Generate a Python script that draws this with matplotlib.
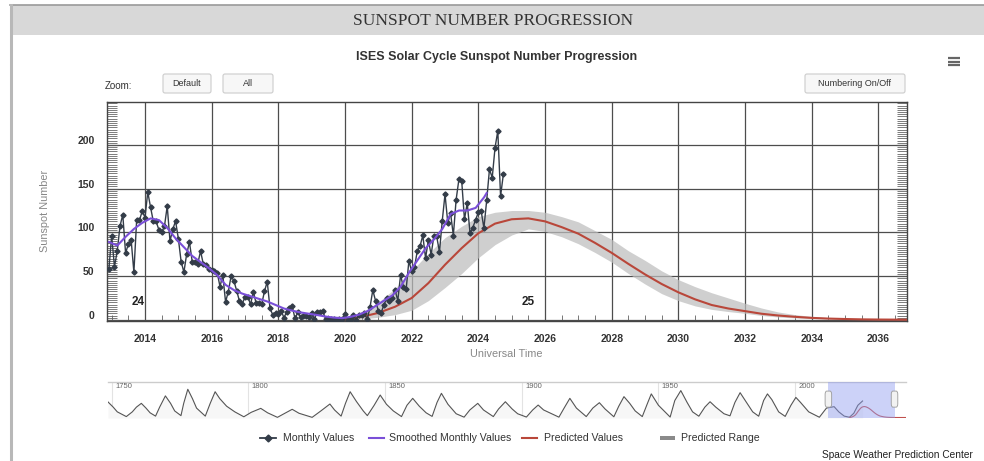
import numpy as np
import pandas as pd
import matplotlib
matplotlib.use("Agg")
import matplotlib.pyplot as plt
import matplotlib.transforms as mtransforms
from matplotlib.patches import Rectangle, FancyBboxPatch
from matplotlib.lines import Line2D

plt.rcParams["font.family"] = ["Liberation Sans", "DejaVu Sans"]

# ---------------- data ----------------
monthly_start = "2012-12-01"
monthly_values = [
    58.0,
    96.1, 60.9, 78.3, 107.3, 120.2, 76.7, 86.2, 91.8, 54.5, 114.4, 113.9, 124.2,
    117.0, 146.1, 128.7, 112.5, 112.5, 102.9, 100.2, 106.9, 130.0, 90.0, 103.6, 112.9,
    93.0, 66.7, 54.5, 75.3, 88.8, 66.5, 65.8, 64.4, 78.6, 63.6, 62.2, 58.0,
    57.0, 56.4, 54.1, 37.9, 51.5, 20.5, 32.4, 50.2, 44.6, 33.4, 21.4, 18.5,
    26.1, 26.4, 17.7, 32.3, 18.9, 19.2, 17.8, 32.6, 43.7, 13.2, 5.7, 8.2,
    6.8, 10.7, 2.5, 8.9, 13.1, 15.6, 1.6, 8.7, 3.3, 4.9, 4.9, 3.1,
    7.7, 0.8, 9.4, 9.1, 9.9, 1.2, 0.9, 0.5, 1.1, 0.4, 0.5, 1.5,
    6.2, 0.2, 1.5, 5.2, 0.2, 5.8, 6.1, 7.5, 0.6, 14.4, 34.0, 21.8,
    10.4, 8.2, 17.2, 24.5, 21.2, 25.0, 34.3, 22.0, 51.3, 37.4, 34.8, 67.5,
    55.3, 59.9, 78.5, 84.1, 96.5, 70.5, 91.4, 74.6, 96.0, 95.5, 77.6, 113.1,
    143.6, 110.9, 122.0, 96.4, 137.4, 160.5, 159.1, 114.8, 133.6, 99.4, 105.4, 114.2,
    123.0, 124.7, 104.9, 136.5, 172.1, 162.6, 196.6, 216.0, 141.4, 166.4,
]

smoothed_years = [
    2012.92, 2013.17, 2013.42, 2013.67, 2013.92, 2014.17, 2014.42, 2014.67, 2014.92,
    2015.17, 2015.42, 2015.67, 2015.92, 2016.17, 2016.42, 2016.67, 2016.92,
    2017.17, 2017.42, 2017.67, 2017.92, 2018.17, 2018.42, 2018.67, 2018.92,
    2019.17, 2019.42, 2019.67, 2019.92, 2020.17, 2020.42, 2020.67, 2020.92,
    2021.17, 2021.42, 2021.67, 2021.92, 2022.17, 2022.42, 2022.67, 2022.92,
    2023.17, 2023.42, 2023.67, 2023.92, 2024.17, 2024.25,
]
smoothed_values = [
    89, 85, 95, 104, 111, 116, 114, 105, 93,
    83, 73, 66, 59, 51, 40, 34, 30,
    27, 24, 21, 17, 13, 10.5, 8.5, 7,
    5.5, 3.8, 2.6, 2.0, 3.5, 6, 10, 16,
    22, 28, 38, 54, 68, 82, 92, 104,
    121, 125, 125, 128, 140, 145,
]

pred_years = [
    2020.0, 2020.5, 2021.0, 2021.5, 2022.0, 2022.5, 2023.0, 2023.5, 2024.0, 2024.5,
    2025.0, 2025.5, 2026.0, 2026.5, 2027.0, 2027.5, 2028.0, 2028.5, 2029.0, 2029.5,
    2030.0, 2030.5, 2031.0, 2031.5, 2032.0, 2032.5, 2033.0, 2033.5, 2034.0, 2034.5,
    2035.0, 2035.5, 2036.0, 2036.5, 2037.0, 2038.0, 2039.0, 2040.6,
]
pred_values = [
    0.5, 3.5, 8, 15, 25, 42, 63, 82, 99, 110,
    115, 116, 112.6, 106, 98.5, 88, 76.6, 64, 52, 41,
    31.5, 23.5, 17, 13, 10, 7, 5, 3.5, 2.3, 1.5,
    1.0, 0.6, 0.4, 0.3, 0.2, 0.2, 0.2, 0.2,
]
pred_upper = [
    1.5, 8, 20, 36, 56, 76, 94, 107, 118, 123,
    125, 125, 123, 118, 112, 102, 92, 79, 68, 56,
    46, 38, 31, 25, 19, 13.5, 9, 6, 4, 2.5,
    1.6, 1.0, 0.7, 0.5, 0.4, 0.3, 0.3, 0.3,
]
pred_lower = [
    0, 1, 3, 6, 11, 22, 37, 53, 71, 86,
    97, 104, 101, 95, 87, 77, 66, 53, 41, 30,
    22, 16, 12, 9.5, 7.5, 5, 3.3, 2.2, 1.4, 0.9,
    0.6, 0.4, 0.2, 0.2, 0.1, 0.1, 0.1, 0.1,
]

# long-term record shown in the navigator strip
nav_years = [
    1748.6, 1750.5, 1752.0, 1755.3, 1757.5, 1759.0, 1760.8, 1762.5, 1764.0, 1766.0,
    1767.5, 1769.6, 1771.5, 1773.0, 1775.3, 1776.3, 1777.8, 1779.5, 1781.0, 1784.2,
    1786.0, 1787.8, 1789.5, 1792.0, 1795.0, 1798.3, 1801.0, 1804.5, 1807.0, 1810.6,
    1813.0, 1816.0, 1818.5, 1823.3, 1826.5, 1829.8, 1831.5, 1833.9, 1835.5, 1837.2,
    1839.5, 1842.0, 1843.5, 1846.0, 1848.2, 1850.5, 1853.0, 1856.0, 1858.0, 1860.1,
    1862.5, 1865.0, 1867.2, 1869.0, 1870.6, 1873.0, 1876.0, 1878.9, 1881.0, 1883.9,
    1886.0, 1889.6, 1891.5, 1894.0, 1896.5, 1898.5, 1901.7, 1904.0, 1906.0, 1908.0,
    1913.6, 1915.5, 1917.6, 1920.0, 1923.6, 1926.0, 1928.4, 1930.5, 1933.7, 1935.5,
    1937.4, 1939.5, 1941.5, 1944.1, 1946.0, 1947.4, 1950.0, 1954.3, 1956.0, 1958.2,
    1960.5, 1962.5, 1964.8, 1967.0, 1968.9, 1971.0, 1974.0, 1976.2, 1978.0, 1979.9,
    1982.0, 1984.5, 1986.7, 1988.5, 1989.9, 1991.5, 1994.0, 1996.4, 1998.5, 2000.3,
    2002.0, 2005.0, 2008.9, 2011.5, 2014.3, 2016.0, 2018.0, 2019.9, 2021.5, 2023.0,
    2024.7,
]
nav_values = [
    165, 110, 60, 10, 60, 110, 150, 100, 50, 15,
    110, 229, 150, 70, 20, 150, 299, 200, 100, 15,
    150, 273, 200, 120, 60, 8, 55, 97, 50, 2,
    40, 87, 45, 2, 70, 143, 80, 15, 150, 273,
    170, 70, 20, 130, 238, 140, 70, 10, 130, 203,
    120, 50, 12, 160, 256, 140, 40, 4, 80, 150,
    80, 10, 90, 167, 90, 40, 5, 80, 132, 80,
    4, 100, 203, 100, 10, 100, 157, 90, 8, 120,
    221, 150, 70, 10, 150, 250, 130, 5, 180, 285,
    160, 60, 14, 110, 167, 110, 40, 18, 160, 263,
    170, 60, 14, 180, 250, 190, 60, 12, 130, 213,
    160, 60, 3, 100, 115, 60, 15, 3, 45, 130,
    175,
]

cycle_labels = ["24", "25"]
cycle_label_x = [2013.8, 2025.5]

legend_labels = ["Monthly Values", "Smoothed Monthly Values", "Predicted Values", "Predicted Range"]

# ---------------- colours ----------------
C_MONTHLY = "#333c48"
C_SMOOTH = "#7a4fd8"
C_PRED = "#b9473a"
C_RANGE = "#bdbdbd"
C_GRID = "#4d4d4d"

W, H = 984, 461
fig = plt.figure(figsize=(W / 100, H / 100), dpi=100)
fig.patch.set_facecolor("white")

# page-level overlay in pixel coordinates
bg = fig.add_axes([0, 0, 1, 1], zorder=-5)
bg.set_xlim(0, W)
bg.set_ylim(H, 0)
bg.axis("off")

# header band
bg.add_patch(Rectangle((10, 5), W - 10, 30, facecolor="#d8d8d8", edgecolor="none"))
bg.plot([10, W], [5, 5], color="#9a9a9a", lw=1.2)
bg.plot([11, 11], [5, H], color="#b8b8b8", lw=2.2)
bg.text(493, 21, "SUNSPOT NUMBER PROGRESSION", family=["Liberation Serif", "DejaVu Serif"],
        fontsize=12.5, color="#333333", ha="center", va="center")

# chart title
bg.text(497, 57, "ISES Solar Cycle Sunspot Number Progression", fontsize=9, fontweight="bold",
        color="#333333", ha="center", va="center")

# zoom buttons
bg.text(118, 86, "Zoom:", fontsize=7, color="#333333", ha="center", va="center")
for (x0, x1, label) in [(163, 211, "Default"), (223, 273, "All"), (805, 905, "Numbering On/Off")]:
    bg.add_patch(FancyBboxPatch((x0, 74), x1 - x0, 19, boxstyle="round,pad=0,rounding_size=2",
                                facecolor="#f7f7f7", edgecolor="#cccccc", lw=0.8))
    bg.text((x0 + x1) / 2, 83.5, label, fontsize=6.5, color="#333333", ha="center", va="center")

# hamburger icon
for yy in (58.5, 62, 65.5):
    bg.plot([948, 960], [yy, yy], color="#666666", lw=1.6, solid_capstyle="butt")

# axis titles
bg.text(45, 211, "Sunspot Number", rotation=90, fontsize=7.8, color="#888888", ha="center", va="center")
bg.text(506, 354, "Universal Time", fontsize=7.8, color="#888888", ha="center", va="center")

# legend
ly = 438
bg.add_line(Line2D([260, 276], [ly, ly], color=C_MONTHLY, lw=1.3))
bg.add_line(Line2D([268], [ly], color=C_MONTHLY, marker="D", ms=3.5, lw=0))
bg.text(283, ly, legend_labels[0], fontsize=7.6, color="#333333", va="center")
bg.add_line(Line2D([369, 384], [ly, ly], color=C_SMOOTH, lw=1.5))
bg.text(389, ly, legend_labels[1], fontsize=7.6, color="#333333", va="center")
bg.add_line(Line2D([522, 537], [ly, ly], color=C_PRED, lw=1.5))
bg.text(544, ly, legend_labels[2], fontsize=7.6, color="#333333", va="center")
bg.add_patch(Rectangle((660, ly - 2), 15, 4, facecolor="#8a8a8a", edgecolor="none"))
bg.text(681, ly, legend_labels[3], fontsize=7.6, color="#333333", va="center")

bg.text(973, 455, "Space Weather Prediction Center", fontsize=7.3, color="#222222", ha="right", va="center")

# ---------------- main chart ----------------
ax = fig.add_axes([107 / W, 1 - 320.5 / H, 799.7 / W, 218.5 / H])
dates = pd.date_range(monthly_start, periods=len(monthly_values), freq="MS")
month_x = dates.year + (dates.month - 1) / 12.0

ax.fill_between(pred_years, pred_lower, pred_upper, color=C_RANGE, alpha=0.72, lw=0, zorder=2)
ax.plot(pred_years, pred_values, color=C_PRED, lw=1.5, zorder=3)
ax.plot(month_x, monthly_values, color=C_MONTHLY, lw=1.0, marker="D", ms=2.6, zorder=4)
ax.plot(smoothed_years, smoothed_values, color=C_SMOOTH, lw=1.5, zorder=5)

for lab, xx in zip(cycle_labels, cycle_label_x):
    ax.text(xx, 20, lab, fontsize=8.5, fontweight="bold", color="#222222", ha="center", va="center")

ax.set_xlim(2012.86, 2036.85)
ax.set_ylim(-0.7, 249)
ax.set_xticks(np.arange(2014, 2037, 2))
ax.set_xticks(np.arange(2013, 2037, 0.5), minor=True)
ax.set_yticks([0, 50, 100, 150, 200])
ax.set_yticks(np.arange(0, 249, 2.5), minor=True)
ax.set_axisbelow(True)
ax.grid(which="major", color=C_GRID, lw=0.9)
for s in ax.spines.values():
    s.set_color("#444444")
    s.set_linewidth(1.0)

ax.tick_params(axis="x", which="major", direction="in", length=0, pad=10,
               labelsize=7.5, labelcolor="#333333")
ax.tick_params(axis="x", which="minor", direction="in", length=4, color="#777777", width=0.7)
ax.tick_params(axis="y", which="major", direction="in", length=8, pad=9, left=True, right=True,
               labelsize=7.5, labelcolor="#333333", color="#555555")
ax.tick_params(axis="y", which="minor", direction="in", length=7, left=True, right=True,
               color="#666666", width=0.6)
for lbl in ax.get_xticklabels() + ax.get_yticklabels():
    lbl.set_fontweight("bold")
shift = mtransforms.ScaledTranslation(0, 0.05, fig.dpi_scale_trans)
for lbl in ax.get_yticklabels():
    lbl.set_transform(lbl.get_transform() + shift)

# ---------------- navigator ----------------
nav = fig.add_axes([108 / W, 1 - 418 / H, 798 / W, 36 / H])
nav.set_xlim(1748.6, 2040.6)
nav.set_ylim(-5, 376)
for yr in range(1750, 2001, 50):
    nav.axvline(yr, color="#e3e3e3", lw=0.8, zorder=0)
    nav.text(yr + 1.2, 362, str(yr), fontsize=5.5, color="#666666", va="top", ha="left")
nav.fill_between(nav_years, nav_values, -5, color="#f7f7f7", lw=0, zorder=1)
nav.plot(nav_years, nav_values, color="#555555", lw=0.8, zorder=2)
nav.plot(pred_years, pred_values, color="#c0504d", lw=0.8, zorder=2)
nav.axvspan(2012.2, 2036.4, color="#8f9cf0", alpha=0.45, lw=0, zorder=3)
for hx in (2012.2, 2036.4):
    nav.add_patch(FancyBboxPatch((hx - 1.2, 110), 2.4, 170, boxstyle="round,pad=0,rounding_size=0.6",
                                 facecolor="#f2f2f2", edgecolor="#999999", lw=0.6, zorder=4,
                                 mutation_aspect=60))
nav.set_xticks([])
nav.set_yticks([])
for side in ("left", "right", "bottom"):
    nav.spines[side].set_visible(False)
nav.spines["top"].set_color("#cccccc")
nav.spines["top"].set_linewidth(1.0)

fig.savefig("out.png", dpi=100)
